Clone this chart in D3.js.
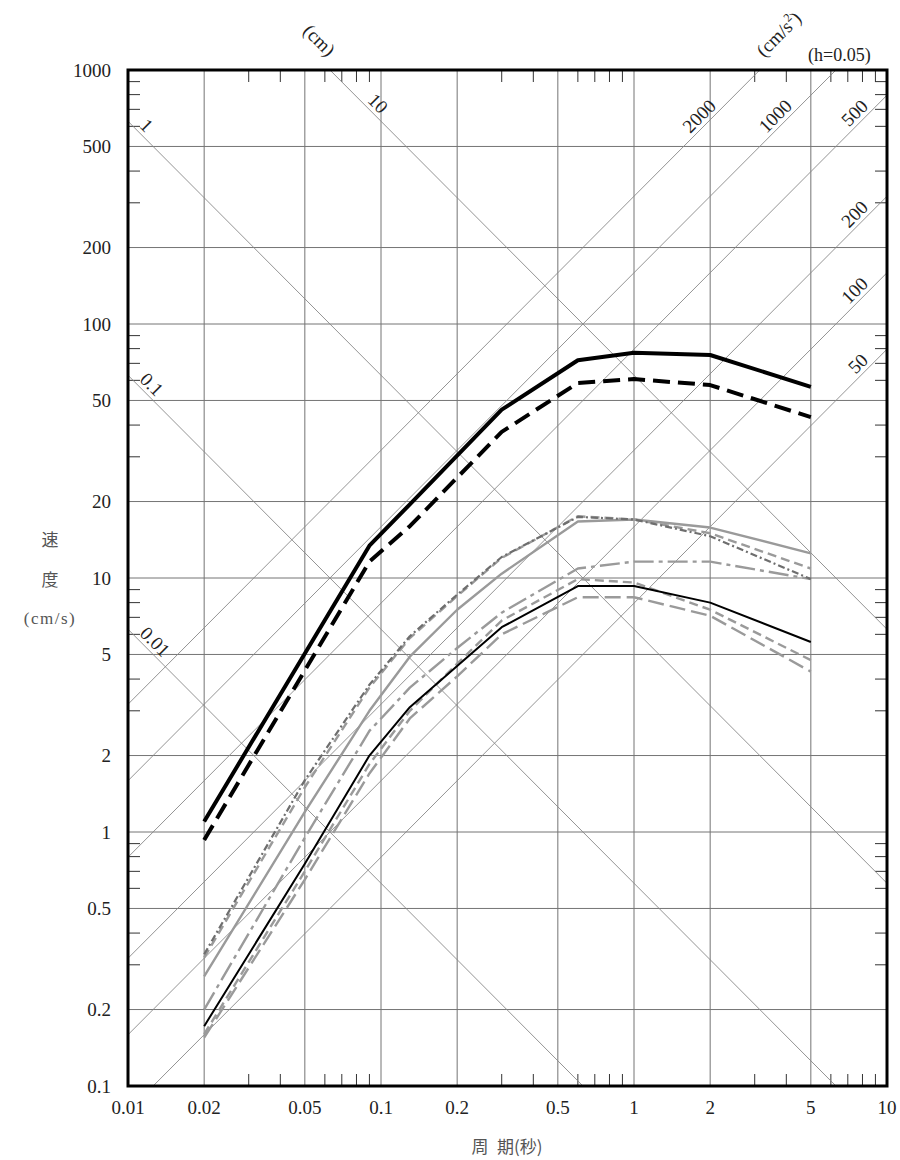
<!DOCTYPE html>
<html>
<head>
<meta charset="utf-8">
<script src="https://cdn.jsdelivr.net/npm/d3@7"></script>
<style>
  body { margin: 0; background: #fff; }
  text { font-family: "Liberation Serif", "DejaVu Serif", serif; }
  .jp { font-family: "Noto Sans CJK JP", sans-serif; }
</style>
</head>
<body>
<div class="chart"></div>
<script>
// periods of the two thick (target) spectra
var periodsThick = [0.02, 0.09, 0.13, 0.3, 0.6, 1, 2, 5];
var thickSolid = [1.10, 13.4, 19.5, 46, 72, 77, 75.5, 56.6];
var thickDashed = [0.93, 11.6, 16.0, 37.6, 58.6, 60.7, 57.5, 43.0];

// periods of the thin spectra
var periodsObs = [0.02, 0.05, 0.09, 0.13, 0.2, 0.3, 0.6, 1, 2, 5];
var obsA = [0.27, 1.2, 3.0, 4.9, 7.5, 10.4, 16.7, 17.0, 15.8, 12.5];
var obsB = [0.32, 1.5, 3.7, 5.8, 8.5, 12.0, 17.5, 17.0, 15.0, 10.9];
var obsC = [0.33, 1.6, 3.8, 5.9, 8.6, 12.1, 17.4, 17.0, 14.6, 9.9];
var obsD = [0.20, 0.95, 2.5, 3.7, 5.3, 7.3, 10.9, 11.6, 11.6, 9.9];
var obsE = [0.172, 0.75, 2.0, 3.1, 4.5, 6.4, 9.3, 9.3, 8.0, 5.6];
var obsF = [0.16, 0.7, 1.85, 3.0, 4.6, 6.8, 9.9, 9.6, 7.5, 4.75];
var obsG = [0.155, 0.65, 1.7, 2.8, 4.1, 6.0, 8.4, 8.4, 7.1, 4.28];

// diagonal guide lines
var dispLines = [0.01, 0.1, 1, 10];            // cm
var accLines = [50, 100, 200, 500, 1000, 2000]; // cm/s2

// tick labels
var xTickLabels = [0.01, 0.02, 0.05, 0.1, 0.2, 0.5, 1, 2, 5, 10];
var yTickLabels = [0.1, 0.2, 0.5, 1, 2, 5, 10, 20, 50, 100, 200, 500, 1000];

var svgWidth = 900;
var svgHeight = 1160;

var margin = { top: 70, right: 13, bottom: 74, left: 128 };
var chartWidth = svgWidth - margin.left - margin.right;
var chartHeight = svgHeight - margin.top - margin.bottom;

var svg = d3.select(".chart")
  .append("svg")
  .attr("width", svgWidth)
  .attr("height", svgHeight);

var chartGroup = svg.append("g")
  .attr("transform", `translate(${margin.left}, ${margin.top})`);

var xScale = d3.scaleLog().domain([0.01, 10]).range([0, chartWidth]);
var yScale = d3.scaleLog().domain([0.1, 1000]).range([chartHeight, 0]);

svg.append("defs").append("clipPath")
  .attr("id", "plotClip")
  .append("rect")
  .attr("width", chartWidth)
  .attr("height", chartHeight);

// major grid (1-2-5)
var xGrid = [0.02, 0.05, 0.1, 0.2, 0.5, 1, 2, 5];
var yGrid = [0.2, 0.5, 1, 2, 5, 10, 20, 50, 100, 200, 500];

chartGroup.selectAll(".vgrid")
  .data(xGrid)
  .enter()
  .append("line")
  .attr("x1", d => xScale(d))
  .attr("x2", d => xScale(d))
  .attr("y1", 0)
  .attr("y2", chartHeight)
  .attr("stroke", "#747474")
  .attr("stroke-width", 1);

chartGroup.selectAll(".hgrid")
  .data(yGrid)
  .enter()
  .append("line")
  .attr("x1", 0)
  .attr("x2", chartWidth)
  .attr("y1", d => yScale(d))
  .attr("y2", d => yScale(d))
  .attr("stroke", "#747474")
  .attr("stroke-width", 1);

// minor ticks on the four sides, inward
var minor = [3, 4, 6, 7, 8, 9];
var xMinor = [];
[0.01, 0.1, 1].forEach(function(dec) { minor.forEach(m => xMinor.push(dec * m)); });
var yMinor = [];
[0.1, 1, 10, 100].forEach(function(dec) { minor.forEach(m => yMinor.push(dec * m)); });
var tickLen = 12;

chartGroup.selectAll(".xminor")
  .data(xMinor)
  .enter()
  .append("path")
  .attr("d", d => `M${xScale(d)},0v${tickLen}M${xScale(d)},${chartHeight}v${-tickLen}`)
  .attr("stroke", "#333")
  .attr("stroke-width", 1);

chartGroup.selectAll(".yminor")
  .data(yMinor)
  .enter()
  .append("path")
  .attr("d", d => `M0,${yScale(d)}h${tickLen}M${chartWidth},${yScale(d)}h${-tickLen}`)
  .attr("stroke", "#333")
  .attr("stroke-width", 1);

// diagonal lines: displacement (SV = 2*pi*SD/T) and acceleration (SV = SA*T/(2*pi))
var diagGroup = chartGroup.append("g").attr("clip-path", "url(#plotClip)");
var diagLine = d3.line().x(d => xScale(d[0])).y(d => yScale(d[1]));
var tEnds = [0.001, 100];

diagGroup.selectAll(".disp")
  .data(dispLines)
  .enter()
  .append("path")
  .attr("d", sd => diagLine(tEnds.map(t => [t, 2 * Math.PI * sd / t])))
  .attr("fill", "none")
  .attr("stroke", "#888")
  .attr("stroke-width", 0.9);

diagGroup.selectAll(".acc")
  .data(accLines)
  .enter()
  .append("path")
  .attr("d", sa => diagLine(tEnds.map(t => [t, sa * t / (2 * Math.PI)])))
  .attr("fill", "none")
  .attr("stroke", "#888")
  .attr("stroke-width", 0.9);

// diagonal labels
dispLines.forEach(function(sd) {
  var t = sd === 10 ? xScale.invert(236) : xScale.invert(8);
  var px = xScale(t);
  var py = yScale(2 * Math.PI * sd / t);
  chartGroup.append("text")
    .attr("transform", `translate(${px},${py}) rotate(45)`)
    .attr("dy", -4)
    .attr("font-size", 19)
    .attr("fill", "#222")
    .text(sd);
});

accLines.forEach(function(sa) {
  var px, py;
  if (sa >= 1000) {
    py = 40;
    var sv = yScale.invert(py);
    px = xScale(sv * 2 * Math.PI / sa);
  } else {
    px = chartWidth - 15;
    py = yScale(sa * xScale.invert(px) / (2 * Math.PI));
  }
  chartGroup.append("text")
    .attr("transform", `translate(${px},${py}) rotate(-45)`)
    .attr("dy", -4)
    .attr("text-anchor", "end")
    .attr("font-size", 19)
    .attr("fill", "#222")
    .text(sa);
});

// unit labels over the frame
svg.append("text")
  .attr("transform", "translate(302,32) rotate(45)")
  .attr("font-size", 19)
  .attr("fill", "#222")
  .text("(cm)");

var accUnit = svg.append("text")
  .attr("transform", "translate(764,58) rotate(-45)")
  .attr("font-size", 19)
  .attr("fill", "#222");
accUnit.append("tspan").text("(cm/s");
accUnit.append("tspan").attr("font-size", 12).attr("dy", -8).text("2");
accUnit.append("tspan").attr("dy", 8).text(")");

svg.append("text")
  .attr("x", 808)
  .attr("y", 61)
  .attr("font-size", 18)
  .attr("fill", "#222")
  .text("(h=0.05)");

// spectra
var specGroup = chartGroup.append("g").attr("clip-path", "url(#plotClip)");

var series = [
  { t: periodsObs, v: obsG, color: "#9a9a9a", width: 2.4, dash: "16,6" },
  { t: periodsObs, v: obsF, color: "#9a9a9a", width: 2.4, dash: "9,5" },
  { t: periodsObs, v: obsD, color: "#9a9a9a", width: 2.4, dash: "20,5,4,5" },
  { t: periodsObs, v: obsA, color: "#9a9a9a", width: 2.4, dash: null },
  { t: periodsObs, v: obsB, color: "#9a9a9a", width: 2.4, dash: "9,5" },
  { t: periodsObs, v: obsC, color: "#6e6e6e", width: 2.2, dash: "7,3,2,3" },
  { t: periodsObs, v: obsE, color: "#000", width: 2, dash: null },
  { t: periodsThick, v: thickDashed, color: "#000", width: 4, dash: "17,8" },
  { t: periodsThick, v: thickSolid, color: "#000", width: 4, dash: null }
];

var specLine = d3.line()
  .x(d => xScale(d[0]))
  .y(d => yScale(d[1]));

specGroup.selectAll(".spec")
  .data(series)
  .enter()
  .append("path")
  .attr("d", s => specLine(s.t.map((t, i) => [t, s.v[i]])))
  .attr("fill", "none")
  .attr("stroke", s => s.color)
  .attr("stroke-width", s => s.width)
  .attr("stroke-dasharray", s => s.dash)
  .attr("stroke-linejoin", "round");

// frame
chartGroup.append("rect")
  .attr("width", chartWidth)
  .attr("height", chartHeight)
  .attr("fill", "none")
  .attr("stroke", "#000")
  .attr("stroke-width", 3);

// tick labels
chartGroup.selectAll(".xlab")
  .data(xTickLabels)
  .enter()
  .append("text")
  .attr("x", d => xScale(d))
  .attr("y", chartHeight + 28)
  .attr("text-anchor", "middle")
  .attr("font-size", 19)
  .attr("fill", "#222")
  .text(d => d);

chartGroup.selectAll(".ylab")
  .data(yTickLabels)
  .enter()
  .append("text")
  .attr("x", -17)
  .attr("y", d => yScale(d))
  .attr("dy", "0.35em")
  .attr("text-anchor", "end")
  .attr("font-size", 19)
  .attr("fill", "#222")
  .text(d => d);

// axis titles
svg.append("text")
  .attr("class", "jp")
  .attr("x", 507)
  .attr("y", 1153)
  .attr("text-anchor", "middle")
  .attr("font-size", 17)
  .attr("fill", "#555")
  .text("周\u2002期(秒)");

svg.append("text")
  .attr("class", "jp")
  .attr("x", 50)
  .attr("y", 546)
  .attr("text-anchor", "middle")
  .attr("font-size", 17)
  .attr("fill", "#555")
  .text("速");

svg.append("text")
  .attr("class", "jp")
  .attr("x", 50)
  .attr("y", 586)
  .attr("text-anchor", "middle")
  .attr("font-size", 17)
  .attr("fill", "#555")
  .text("度");

svg.append("text")
  .attr("x", 50)
  .attr("y", 624)
  .attr("text-anchor", "middle")
  .attr("font-size", 17)
  .attr("letter-spacing", 1.5)
  .attr("fill", "#555")
  .text("(cm/s)");
</script>
</body>
</html>
